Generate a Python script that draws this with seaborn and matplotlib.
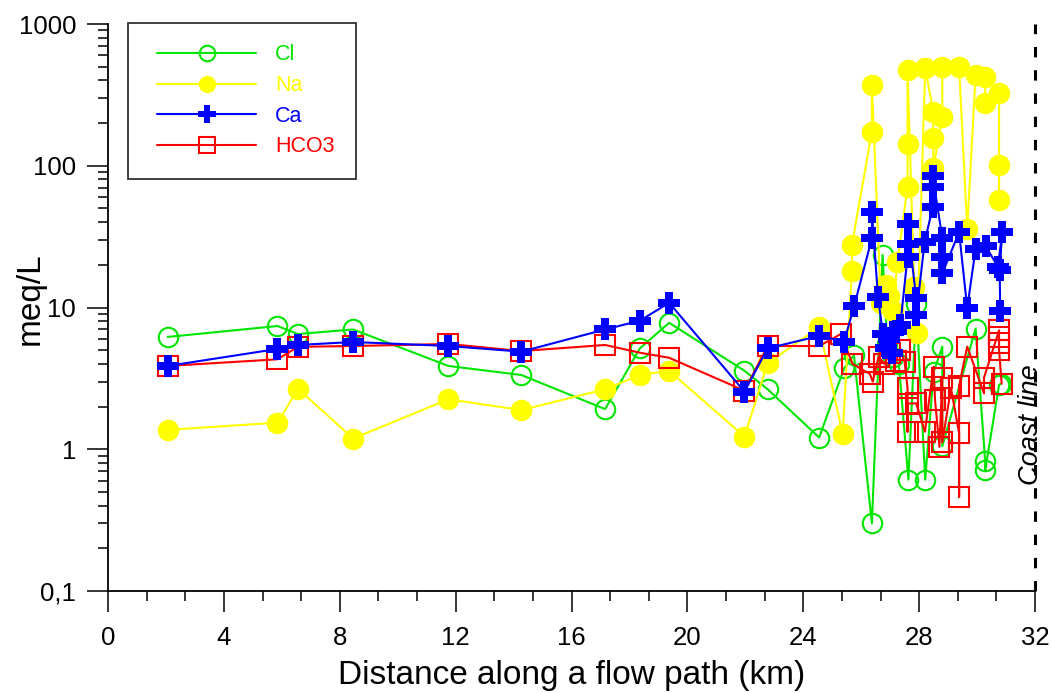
import numpy as np
import pandas as pd
import matplotlib
matplotlib.use("Agg")
import matplotlib.pyplot as plt
import matplotlib.ticker as mticker
from matplotlib.legend_handler import HandlerLine2D
import seaborn as sns

# ---------------- data ----------------
cl_km = [2.06, 5.85, 6.56, 8.46, 11.75, 14.27, 17.16, 18.36, 19.37, 21.97, 22.77, 24.55,
         25.41, 25.75, 26.37, 26.74, 26.9, 27.1, 27.3, 27.63, 27.9, 28.21, 28.5, 28.8, 28.8,
         29.95, 30.28, 30.28, 30.76, 30.82]
cl_val = [6.2, 7.4, 6.5, 7.0, 3.87, 3.34, 1.92, 5.15, 7.8, 3.58, 2.65, 1.21,
          3.72, 4.6, 0.30, 23.5, 5.5, 4.5, 4.0, 0.61, 10.5, 0.61, 3.5, 5.3, 1.05,
          7.1, 0.82, 0.71, 2.84, 2.9]

na_km = [2.06, 5.85, 6.56, 8.46, 11.75, 14.27, 17.16, 18.36, 19.37, 21.97, 22.77, 24.55,
         25.36, 25.68, 25.68, 26.37, 26.37, 26.68, 26.85, 26.95, 27.1, 27.25, 27.6, 27.6, 27.6,
         27.83, 27.93, 28.21, 28.49, 28.49, 28.49, 28.8, 28.8, 29.38, 29.66, 29.95,
         30.28, 30.28, 30.76, 30.76, 30.76]
na_val = [1.37, 1.54, 2.67, 1.19, 2.25, 1.89, 2.65, 3.34, 3.58, 1.23, 4.04, 7.25,
          1.28, 18, 27.6, 174, 371, 10.7, 14.4, 12, 9.5, 21, 71, 142, 474,
          14, 6.6, 487, 240, 156, 96, 222, 500, 500, 36, 437,
          420, 275, 328, 102, 57]

ca_km = [2.06, 5.85, 6.56, 8.46, 11.75, 14.27, 17.16, 18.36, 19.37, 21.97, 22.77, 24.55,
         25.41, 25.76, 26.37, 26.37, 26.58, 26.75, 26.85, 26.95, 27.05, 27.2, 27.35,
         27.6, 27.6, 27.6, 27.9, 27.9, 28.19, 28.47, 28.47, 28.47, 28.8, 28.8, 28.8,
         29.38, 29.66, 29.95, 30.3, 30.72, 30.87, 30.78, 30.8]
ca_val = [3.87, 5.1, 5.44, 5.71, 5.35, 4.88, 7.0, 8.07, 10.8, 2.55, 5.15, 6.3,
          5.74, 10.3, 30.8, 47, 11.9, 6.5, 5.2, 6.0, 4.8, 6.8, 7.5,
          22.8, 28, 39, 11.6, 8.8, 29, 51, 71, 84, 31, 22.8, 17.4,
          34, 9.9, 26, 27, 19.4, 34, 18.5, 9.5]

hco3_km = [2.06, 5.85, 6.56, 8.46, 11.75, 14.27, 17.16, 18.36, 19.37, 21.97, 22.77, 24.55,
           25.3, 25.7, 26.3, 26.4, 26.6, 26.8, 27.0, 27.2, 27.35, 27.5, 27.6, 27.6, 27.6,
           27.9, 28.2, 28.5, 28.55, 28.7, 28.8, 28.8, 29.1, 29.38, 29.38, 29.38, 29.66,
           30.24, 30.24, 30.76, 30.76, 30.76, 30.76, 30.85]
hco3_val = [3.87, 4.31, 5.28, 5.35, 5.53, 4.93, 5.44, 4.8, 4.42, 2.59, 5.35, 5.35,
            6.5, 4.0, 3.4, 3.0, 4.5, 4.0, 4.8, 4.2, 5.0, 4.15, 2.69, 1.33, 2.1,
            2.11, 1.33, 3.82, 2.22, 1.04, 3.2, 1.12, 2.69, 1.3, 0.46, 2.8, 5.3,
            2.48, 3.2, 6.9, 6.2, 5.6, 5.0, 2.9]

x_ticks = [0, 4, 8, 12, 16, 20, 24, 28, 32]
y_ticks = [0.1, 1, 10, 100, 1000]
y_tick_labels = ["0,1", "1", "10", "100", "1000"]
coast_km = 32

# ---------------- style ----------------
sns.set_theme(style="white")
plt.rcParams["font.family"] = ["Liberation Sans", "DejaVu Sans"]

fig = plt.figure(figsize=(10.52, 6.93), dpi=100)
ax = fig.add_axes([108 / 1052, 1 - 591 / 693, (1035 - 108) / 1052, (591 - 24) / 693])

series = [
    ("Cl", cl_km, cl_val, dict(color="#00E600", marker="o", markersize=14, mfc="none",
                               mec="#00E600", mew=1.5), 2),
    ("Na", na_km, na_val, dict(color="#FFFF00", marker="o", markersize=15.5, mfc="#FFFF00",
                               mec="#FFFF00", mew=0), 3),
    ("Ca", ca_km, ca_val, dict(color="#0000FF", marker="P", markersize=16, mfc="#0000FF",
                               mec="#0000FF", mew=0), 5),
    ("HCO3", hco3_km, hco3_val, dict(color="#FF0000", marker="s", markersize=14, mfc="none",
                                     mec="#FF0000", mew=1.5), 4),
]

order = ["Cl", "Na", "Ca", "HCO3"]
for name, km, val, st, z in series:
    df = pd.DataFrame({"km": km, "meq": val})
    sns.lineplot(data=df, x="km", y="meq", sort=False, estimator=None, ax=ax,
                 label=name, lw=1.5, zorder=z, **st)

ax.set_yscale("log")
ax.set_xlim(0, 32)
ax.set_ylim(0.1, 1000)

ax.set_xticks(x_ticks)
ax.xaxis.set_minor_locator(mticker.MultipleLocator(4 / 3))
ax.set_yticks(y_ticks)
ax.set_yticklabels(y_tick_labels)
ax.yaxis.set_minor_locator(mticker.LogLocator(base=10, subs=np.arange(2, 10)))
ax.yaxis.set_minor_formatter(mticker.NullFormatter())

ax.tick_params(axis="both", which="major", direction="out", length=15, width=1.1,
               color="black", labelsize=18.5, labelcolor="black")
ax.tick_params(axis="y", which="major", pad=8)
ax.tick_params(axis="x", which="major", pad=10)
ax.tick_params(axis="both", which="minor", direction="out", length=7.5, width=1.1,
               color="black")
ax.tick_params(left=True, bottom=True, which="both")

for s in ["top", "right"]:
    ax.spines[s].set_visible(False)
for s in ["left", "bottom"]:
    ax.spines[s].set_color("black")
    ax.spines[s].set_linewidth(1.3)

ax.set_xlabel("Distance along a flow path (km)", fontsize=24, color="black")
ax.set_ylabel("meq/L", fontsize=24, color="black")
ax.xaxis.set_label_coords(0.5, -0.122)
ax.yaxis.set_label_coords(-0.067, 0.515)

# coast line
ax.axvline(coast_km, color="black", lw=2.2, ls=(0, (3.4, 4.2)), clip_on=False, zorder=6)
ax.text(31.86, 1.48, "Coast line", rotation=90, fontsize=19.5, fontstyle="italic",
        ha="center", va="center", color="black")

# legend
handles, labels = ax.get_legend_handles_labels()
hmap = dict(zip(labels, handles))
leg_handles = [hmap[k] for k in order]
leg = ax.legend(leg_handles, order, loc="upper left",
                bbox_to_anchor=(0.0216, 1.002), borderaxespad=0, fontsize=15.5,
                frameon=True, fancybox=False, edgecolor="#333333", framealpha=1,
                handlelength=4.95, handletextpad=0.88, labelspacing=0.45, borderpad=1.0,
                markerscale=0.8, labelcolor="linecolor",
                handler_map={h: HandlerLine2D(xpad=0.35) for h in leg_handles})
leg.get_frame().set_linewidth(1.3)

fig.savefig("out.png", dpi=100)
